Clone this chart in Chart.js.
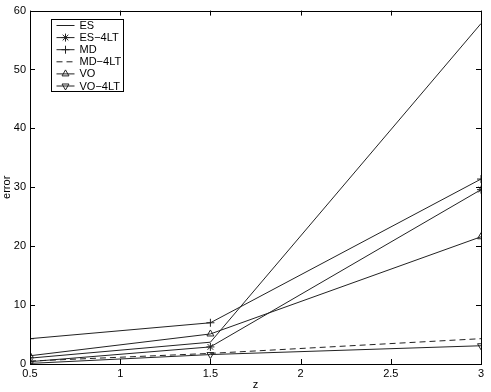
<!DOCTYPE html>
<html>
<head>
<meta charset="utf-8">
<script src="https://cdn.jsdelivr.net/npm/chart.js@4/dist/chart.umd.min.js"></script>
<style>
  body { margin: 0; background: #fff; }
  canvas { display: block; }
</style>
</head>
<body>
<canvas id="chart" width="491" height="392"></canvas>
<script>
'use strict';

// data

var zValues = [0.5, 1.5, 3];
var esErr = [1.0, 3.7, 57.8];
var es4ltErr = [0.4, 2.9, 29.6];
var mdErr = [4.3, 7.0, 31.4];
var md4ltErr = [0.5, 1.8, 4.3];
var voErr = [1.4, 5.1, 21.6];
var vo4ltErr = [0.1, 1.6, 3.1];
var seriesNames = ['ES', 'ES\u22124LT', 'MD', 'MD\u22124LT', 'VO', 'VO\u22124LT'];
var xTicks = [0.5, 1, 1.5, 2, 2.5, 3];
var yTicks = [0, 10, 20, 30, 40, 50, 60];

var fontFamily = '"Liberation Sans", Arial, Helvetica, sans-serif';
var lineColor = '#222';

function toPoints(values) {
  return values.map(function(v, i) {
    return { x: zValues[i], y: v };
  });
}

function makeSet(label, values, style, rotation, dashed) {
  return {
    label: label,
    data: toPoints(values),
    borderColor: lineColor,
    backgroundColor: 'rgba(0,0,0,0)',
    borderWidth: 1,
    borderDash: dashed ? [6, 4] : [],
    pointStyle: style,
    pointRotation: rotation,
    pointRadius: style === false ? 0 : 4,
    pointBorderColor: lineColor,
    pointBorderWidth: 1,
    tension: 0
  };
}

var datasets = [
  makeSet(seriesNames[0], esErr, false, 0, false),
  makeSet(seriesNames[1], es4ltErr, 'star', 0, false),
  makeSet(seriesNames[2], mdErr, 'cross', 0, false),
  makeSet(seriesNames[3], md4ltErr, false, 0, true),
  makeSet(seriesNames[4], voErr, 'triangle', 0, false),
  makeSet(seriesNames[5], vo4ltErr, 'triangle', 180, false)
];

// box round the plot, inward ticks on all four sides, legend inside

var matlabFrame = {
  id: 'matlabFrame',
  afterDatasetsDraw: function(chart) {
    var ctx = chart.ctx;
    var a = chart.chartArea;
    var xs = chart.scales.x;
    var ys = chart.scales.y;
    ctx.save();
    ctx.strokeStyle = '#000';
    ctx.lineWidth = 1;
    ctx.strokeRect(Math.round(a.left) + 0.5, Math.round(a.top) + 0.5,
      Math.round(a.right - a.left), Math.round(a.bottom - a.top));
    ctx.beginPath();
    xTicks.forEach(function(t) {
      var px = Math.round(xs.getPixelForValue(t)) + 0.5;
      ctx.moveTo(px, a.bottom); ctx.lineTo(px, a.bottom - 5);
      ctx.moveTo(px, a.top); ctx.lineTo(px, a.top + 5);
    });
    yTicks.forEach(function(t) {
      var py = Math.round(ys.getPixelForValue(t)) + 0.5;
      ctx.moveTo(a.left, py); ctx.lineTo(a.left + 5, py);
      ctx.moveTo(a.right, py); ctx.lineTo(a.right - 5, py);
    });
    ctx.stroke();

    // legend box
    var bx = Math.round(a.left) + 21.5;
    var by = Math.round(a.top) + 8.5;
    var bw = 72;
    var rowH = 12.1;
    var bh = 72;
    ctx.fillStyle = '#fff';
    ctx.fillRect(bx, by, bw, bh);
    ctx.strokeRect(bx, by, bw, bh);
    ctx.font = '11px ' + fontFamily;
    ctx.textBaseline = 'middle';
    ctx.textAlign = 'left';
    datasets.forEach(function(ds, i) {
      var cy = by + 6 + rowH * i;
      ctx.strokeStyle = lineColor;
      ctx.setLineDash(ds.borderDash);
      ctx.beginPath();
      ctx.moveTo(bx + 5, cy);
      ctx.lineTo(bx + 23, cy);
      ctx.stroke();
      ctx.setLineDash([]);
      if (ds.pointStyle) {
        ctx.fillStyle = 'rgba(0,0,0,0)';
        Chart.helpers.drawPoint(ctx, {
          pointStyle: ds.pointStyle,
          rotation: ds.pointRotation,
          radius: 4,
          borderWidth: 1
        }, bx + 14, cy);
      }
      ctx.fillStyle = '#000';
      ctx.fillText(ds.label, bx + 28, cy + 0.5);
    });
    ctx.restore();
  }
};

var ctx = document.getElementById('chart').getContext('2d');
var chart = new Chart(ctx, {
  type: 'line',
  data: { datasets: datasets },
  plugins: [matlabFrame],
  options: {
    responsive: false,
    animation: false,
    layout: { padding: { top: 10, right: 10, left: 0, bottom: 0 } },
    plugins: {
      legend: { display: false },
      tooltip: { enabled: false }
    },
    scales: {
      x: {
        type: 'linear',
        min: 0.5,
        max: 3,
        afterBuildTicks: function(scale) {
          scale.ticks = xTicks.map(function(v) { return { value: v }; });
        },
        afterFit: function(scale) { scale.height = 28; },
        grid: { display: false, drawTicks: false },
        border: { display: false },
        ticks: {
          color: '#000',
          padding: 3,
          maxRotation: 0,
          font: { family: fontFamily, size: 11 },
          callback: function(v) { return String(v); }
        },
        title: {
          display: true,
          text: 'z',
          color: '#000',
          padding: { top: 0, bottom: 0 },
          font: { family: fontFamily, size: 11 }
        }
      },
      y: {
        type: 'linear',
        min: 0,
        max: 60,
        afterBuildTicks: function(scale) {
          scale.ticks = yTicks.map(function(v) { return { value: v }; });
        },
        afterFit: function(scale) { scale.width = 30; },
        grid: { display: false, drawTicks: false },
        border: { display: false },
        ticks: {
          color: '#000',
          padding: 4,
          font: { family: fontFamily, size: 11 }
        },
        title: {
          display: true,
          text: 'error',
          color: '#000',
          padding: { top: 0, bottom: 0 },
          font: { family: fontFamily, size: 11 }
        }
      }
    }
  }
});
</script>
</body>
</html>
